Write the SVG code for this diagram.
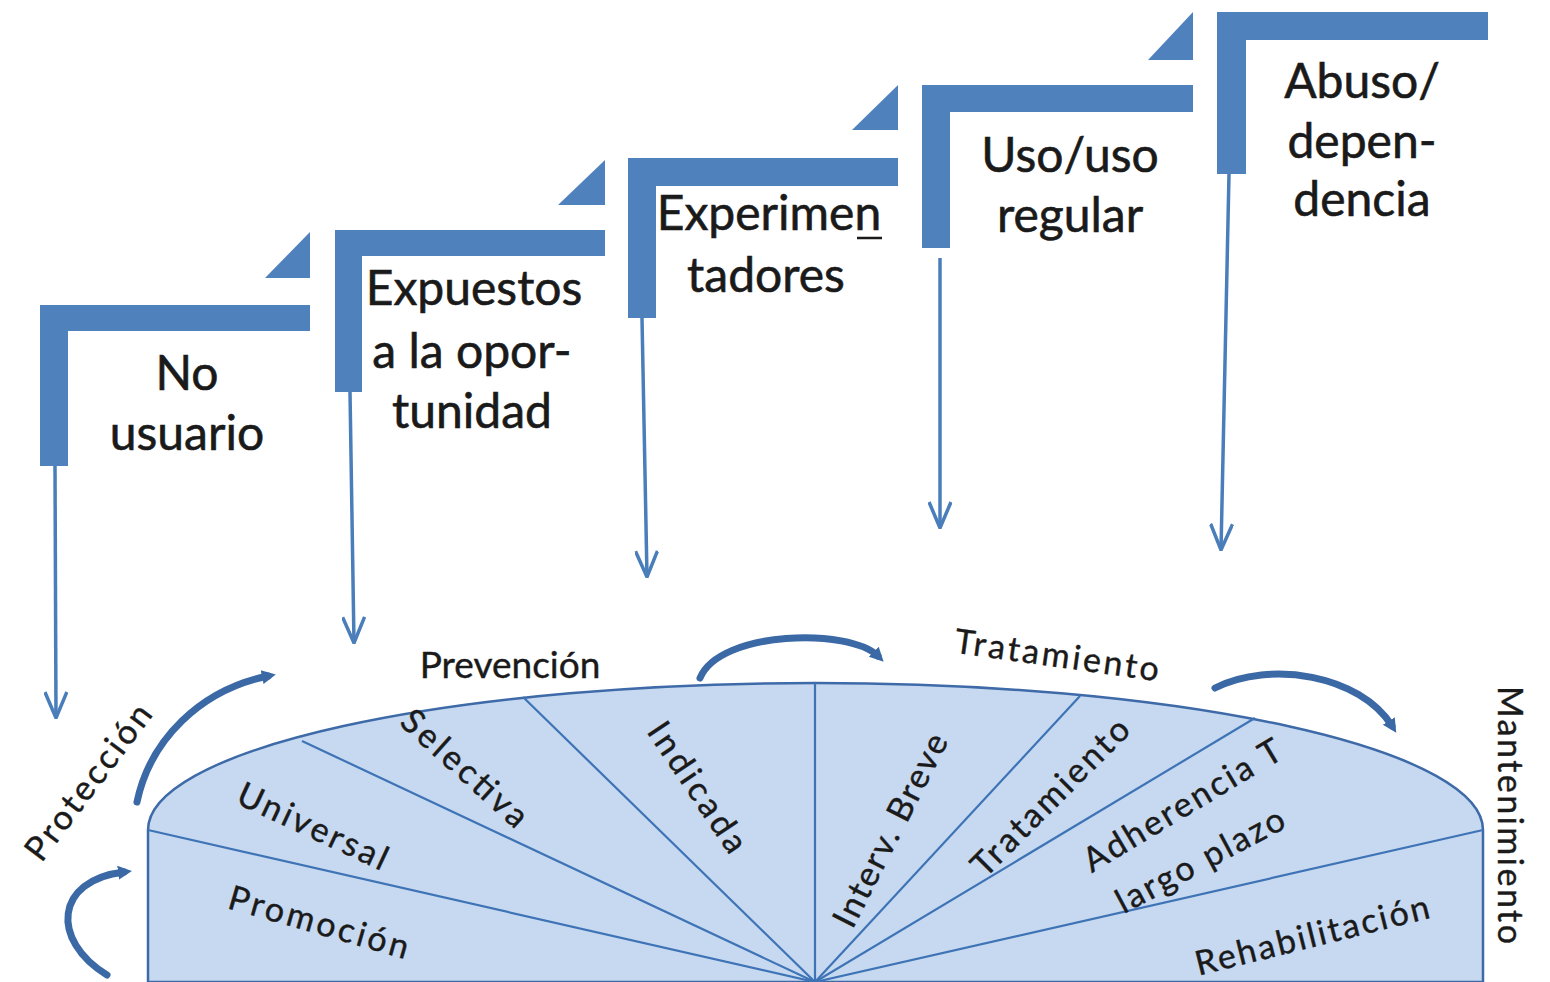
<svg xmlns="http://www.w3.org/2000/svg" width="1550" height="982" viewBox="0 0 1550 982">
<style>
.bar{fill:#4f81bd}
.step{font-family:Lato,"Liberation Sans",sans-serif;font-size:48px;fill:#1a1a1a;stroke:#1a1a1a;stroke-width:0.6;text-anchor:middle}
.lbl{font-family:Lato,"Liberation Sans",sans-serif;font-size:34px;fill:#1a1a1a;stroke:#1a1a1a;stroke-width:0.4;text-anchor:middle}
.thin{stroke:#4a7ebb;stroke-width:3.5;fill:none}
.curv{stroke:#3b69a5;stroke-width:7;fill:none;stroke-linecap:round}
.seg{stroke:#3e73b5;stroke-width:2.2;fill:none}
</style>
<defs>
<marker id="vee" markerUnits="userSpaceOnUse" viewBox="0 0 28 24" refX="27" refY="12" markerWidth="28" markerHeight="24" orient="auto">
<path d="M1,1 L27,12 L1,23" fill="none" stroke="#4a7ebb" stroke-width="3.5"/>
</marker>
<marker id="blk" markerUnits="userSpaceOnUse" viewBox="0 0 20 20" refX="6" refY="10" markerWidth="20" markerHeight="20" orient="auto">
<path d="M0,3 L14,10 L0,17 Z" fill="#3b69a5"/>
</marker>
</defs>

<g id="base">
<path d="M148,982 L148,830 A667.5,147 0 0 1 1483,830 L1483,982 Z" fill="#c6d9f1" stroke="#3e6aa8" stroke-width="2.5"/>
<g class="seg">
<line x1="815" y1="982" x2="148" y2="830"/>
<line x1="815" y1="982" x2="302" y2="741"/>
<line x1="815" y1="982" x2="523" y2="697"/>
<line x1="815" y1="982" x2="815" y2="683"/>
<line x1="815" y1="982" x2="1080" y2="696"/>
<line x1="815" y1="982" x2="1255" y2="718"/>
<line x1="815" y1="982" x2="1483" y2="830"/>
</g>
</g>

<g id="step1">
<rect class="bar" x="40" y="305" width="270" height="26"/>
<rect class="bar" x="40" y="305" width="28" height="161"/>
<polygon class="bar" points="265,278 310,278 310,232"/>
<text class="step" x="187" y="390">No</text>
<text class="step" x="187" y="450">usuario</text>
</g>
<g id="step2">
<rect class="bar" x="335" y="230" width="270" height="26"/>
<rect class="bar" x="335" y="230" width="27" height="162"/>
<polygon class="bar" points="558,205 605,205 605,160"/>
<text class="step" x="474" y="305">Expuestos</text>
<text class="step" x="472" y="368">a la opor-</text>
<text class="step" x="472" y="428">tunidad</text>
</g>
<g id="step3">
<rect class="bar" x="628" y="158" width="270" height="28"/>
<rect class="bar" x="628" y="158" width="28" height="160"/>
<polygon class="bar" points="852,130 898,130 898,85"/>
<text class="step" x="769" y="230">Experimen</text>
<line x1="857" y1="238" x2="882" y2="238" stroke="#1a1a1a" stroke-width="2.5"/>
<text class="step" x="766" y="292">tadores</text>
</g>
<g id="step4">
<rect class="bar" x="922" y="85" width="271" height="27"/>
<rect class="bar" x="922" y="85" width="28" height="163"/>
<polygon class="bar" points="1148,60 1193,60 1193,12"/>
<text class="step" x="1070" y="172">Uso/uso</text>
<text class="step" x="1070" y="232">regular</text>
</g>
<g id="step5">
<rect class="bar" x="1217" y="12" width="271" height="28"/>
<rect class="bar" x="1217" y="12" width="29" height="162"/>
<text class="step" x="1362" y="98">Abuso/</text>
<text class="step" x="1362" y="158">depen-</text>
<text class="step" x="1362" y="216">dencia</text>
</g>

<g id="labels">
<text class="lbl" x="510" y="678" style="font-size:37px">Prevención</text>
<text class="lbl" transform="translate(1057,655) rotate(8)" dy="12" textLength="206" lengthAdjust="spacing">Tratamiento</text>
<text class="lbl" transform="translate(88,782) rotate(-53)" dy="12" textLength="186" lengthAdjust="spacing">Protección</text>
<text class="lbl" transform="translate(1510,815) rotate(90)" dy="12" textLength="258" lengthAdjust="spacing">Mantenimiento</text>
<text class="lbl" transform="translate(313,826) rotate(25)" dy="12" textLength="162" lengthAdjust="spacing">Universal</text>
<text class="lbl" transform="translate(319,922) rotate(16)" dy="12" textLength="186" lengthAdjust="spacing">Promoción</text>
<text class="lbl" transform="translate(465,768) rotate(42)" dy="12" textLength="158" lengthAdjust="spacing">Selectiva</text>
<text class="lbl" transform="translate(698,787) rotate(56)" dy="12" textLength="150" lengthAdjust="spacing">Indicada</text>
<text class="lbl" transform="translate(890,830) rotate(-63)" dy="12" textLength="212" lengthAdjust="spacing">Interv. Breve</text>
<text class="lbl" transform="translate(1050,797) rotate(-45)" dy="12" textLength="208" lengthAdjust="spacing">Tratamiento</text>
<text class="lbl" transform="translate(1182,805) rotate(-31)" dy="12" textLength="225" lengthAdjust="spacing">Adherencia T</text>
<text class="lbl" transform="translate(1200,860) rotate(-28)" dy="12" textLength="186" lengthAdjust="spacing">largo plazo</text>
<text class="lbl" transform="translate(1312,935) rotate(-14)" dy="12" textLength="240" lengthAdjust="spacing">Rehabilitación</text>
</g>

<g id="connectors">
<path class="thin" d="M55,466 L56,718" marker-end="url(#vee)"/>
<path class="thin" d="M350,392 L354,643" marker-end="url(#vee)"/>
<path class="thin" d="M642,318 L647,577" marker-end="url(#vee)"/>
<path class="thin" d="M940,258 L940,528" marker-end="url(#vee)"/>
<path class="thin" d="M1229,174 L1221,550" marker-end="url(#vee)"/>
<path class="curv" d="M137,802 C150,740 200,690 268,676" marker-end="url(#blk)"/>
<path class="curv" d="M107,975 C50,940 55,880 124,872" marker-end="url(#blk)"/>
<path class="curv" d="M700,678 C720,630 850,628 878,656" marker-end="url(#blk)"/>
<path class="curv" d="M1215,688 C1270,660 1360,675 1392,726" marker-end="url(#blk)"/>
</g>
</svg>
